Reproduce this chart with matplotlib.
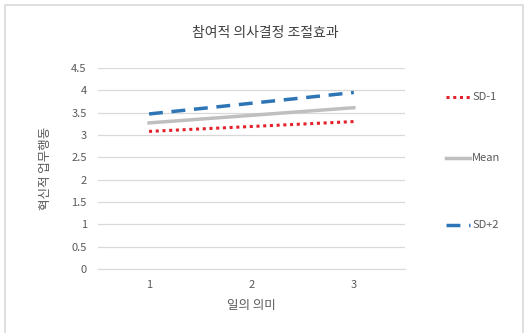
import matplotlib
matplotlib.use("Agg")
import matplotlib.pyplot as plt
from matplotlib.lines import Line2D
from matplotlib.patches import Rectangle

plt.rcParams['font.family'] = ['Noto Sans CJK KR', 'DejaVu Sans']

title = "참여적 의사결정 조절효과"
x_label = "일의 의미"
y_label = "혁신적 업무행동"
categories = [1, 2, 3]
sd_minus = [3.08, 3.19, 3.30]
mean_vals = [3.27, 3.44, 3.61]
sd_plus = [3.47, 3.71, 3.95]
y_ticks = [0, 0.5, 1, 1.5, 2, 2.5, 3, 3.5, 4, 4.5]

series = [
    ("SD-1", sd_minus, '#e3212b', (0, (1, 1.2)), 2.2),
    ("Mean", mean_vals, '#bfbfbf', '-', 2.5),
    ("SD+2", sd_plus, '#2e75b6', (0, (4, 2.5)), 2.5),
]

fig = plt.figure(figsize=(5.26, 3.33), dpi=100)
fig.patches.append(Rectangle((0.01, -0.01), 0.985, 0.995, transform=fig.transFigure,
                             fill=False, edgecolor='#d9d9d9', linewidth=1.2))
ax = fig.add_axes([0.186, 0.192, 0.584, 0.604])

for lab, vals, col, ls, lw in series:
    ax.plot(categories, vals, color=col, linestyle=ls, linewidth=lw, label=lab)

ax.set_xlim(0.5, 3.5)
ax.set_ylim(0, 4.5)
ax.set_yticks(y_ticks)
ax.set_yticklabels([f"{v:g}" for v in y_ticks])
ax.set_xticks(categories)
ax.grid(axis='y', color='#d9d9d9', linewidth=0.9)
ax.set_axisbelow(True)
for s in ['top', 'right', 'left']:
    ax.spines[s].set_visible(False)
ax.spines['bottom'].set_color('#d9d9d9')
ax.tick_params(axis='both', length=0, labelsize=8, colors='#595959', pad=8)
ax.set_xlabel(x_label, fontsize=9, color='#595959', labelpad=6)
ax.set_ylabel(y_label, fontsize=9, color='#595959', labelpad=14)

fig.text(0.505, 0.90, title, ha='center', va='center', fontsize=10, color='#404040')

ypos = [0.708, 0.525, 0.323]
for (lab, vals, col, ls, lw), yp in zip(series, ypos):
    fig.add_artist(Line2D([0.848, 0.893], [yp, yp], transform=fig.transFigure,
                          color=col, linestyle=ls, linewidth=lw))
    fig.text(0.898, yp, lab, ha='left', va='center', fontsize=8, color='#595959')

fig.savefig("out.png", dpi=100)
